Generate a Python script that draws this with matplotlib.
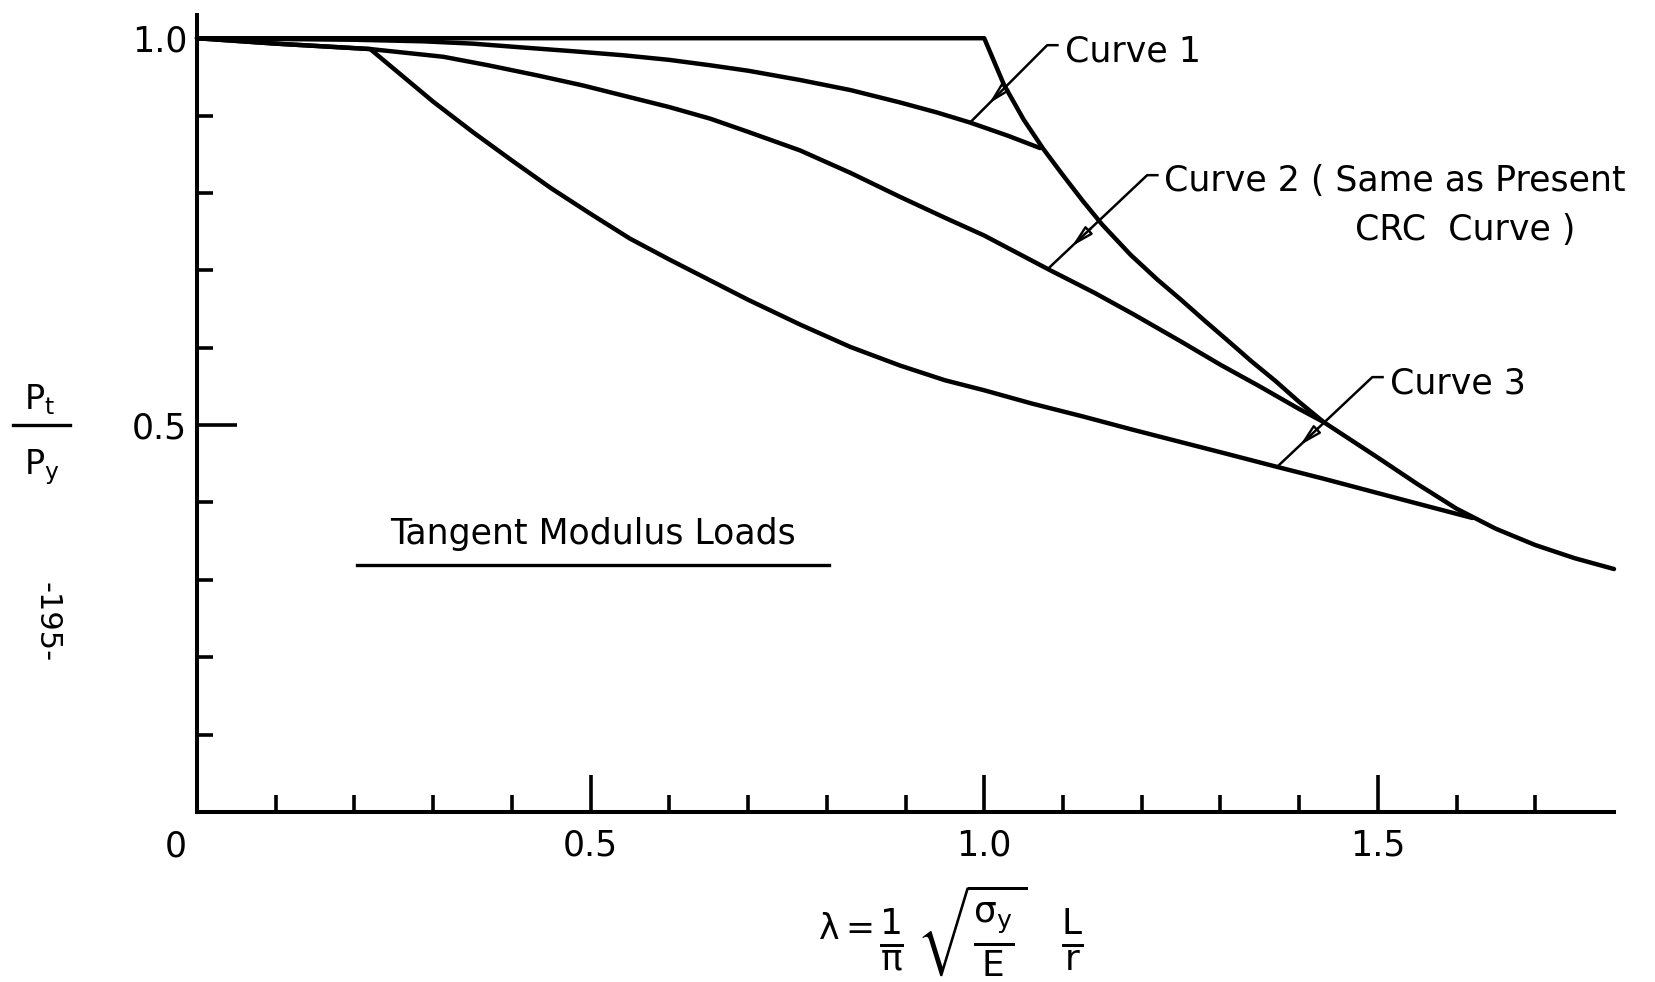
import numpy as np
import matplotlib
matplotlib.use('Agg')
import matplotlib.pyplot as plt
from matplotlib.patches import FancyArrowPatch
from matplotlib.lines import Line2D

plt.rcParams['font.family'] = ['DejaVu Sans']
plt.rcParams['mathtext.default'] = 'regular'

# ── Curves (slenderness λ, P_t/P_y) ───────────────────────────────────────────
lam_euler = [0.0, 1.0, 1.025, 1.05, 1.075, 1.10, 1.125, 1.15, 1.186, 1.22,
             1.25, 1.28, 1.313, 1.34, 1.37, 1.40, 1.431, 1.47, 1.50, 1.55,
             1.60, 1.65, 1.70, 1.75, 1.80]
p_euler   = [1.0, 1.0, 0.940, 0.895, 0.857, 0.823, 0.790, 0.759, 0.720, 0.688,
             0.662, 0.635, 0.606, 0.582, 0.557, 0.530, 0.504, 0.478, 0.458, 0.424,
             0.392, 0.366, 0.345, 0.328, 0.314]

lam_c1 = [0.0, 0.10, 0.20, 0.287, 0.35, 0.414, 0.48, 0.541, 0.60, 0.652, 0.70,
          0.766, 0.83, 0.893, 0.94, 0.982, 1.03, 1.071]
p_c1   = [1.0, 0.999, 0.998, 0.996, 0.993, 0.988, 0.983, 0.978, 0.972, 0.965, 0.958,
          0.946, 0.933, 0.917, 0.904, 0.891, 0.874, 0.858]

lam_c2 = [0.0, 0.10, 0.22, 0.313, 0.37, 0.432, 0.49, 0.541, 0.60, 0.652, 0.70,
          0.766, 0.83, 0.893, 0.95, 1.0, 1.084, 1.14, 1.19, 1.25, 1.30, 1.35,
          1.398, 1.431]
p_c2   = [1.0, 0.993, 0.986, 0.976, 0.965, 0.952, 0.939, 0.926, 0.911, 0.896, 0.879,
          0.855, 0.826, 0.795, 0.768, 0.745, 0.700, 0.671, 0.643, 0.608, 0.578, 0.550,
          0.522, 0.504]

lam_c3 = [0.0, 0.10, 0.22, 0.26, 0.30, 0.35, 0.40, 0.45, 0.50, 0.55, 0.60, 0.65,
          0.70, 0.766, 0.83, 0.893, 0.95, 1.0, 1.06, 1.126, 1.185, 1.25, 1.30,
          1.372, 1.43, 1.482, 1.545, 1.62]
p_c3   = [1.0, 0.993, 0.986, 0.952, 0.918, 0.879, 0.842, 0.806, 0.773, 0.741, 0.714,
          0.688, 0.662, 0.630, 0.601, 0.577, 0.558, 0.545, 0.528, 0.511, 0.495, 0.478,
          0.465, 0.446, 0.431, 0.417, 0.400, 0.380]

# leader lines: point on curve, elbow, label
labels      = ['Curve 1', 'Curve 2 ( Same as Present', 'Curve 3']
leader_tip  = [(0.982, 0.891), (1.081, 0.702), (1.372, 0.446)]
leader_knee = [(1.080, 0.991), (1.207, 0.823), (1.493, 0.562)]

x_major = [0.5, 1.0, 1.5]
x_minor = [0.1, 0.2, 0.3, 0.4, 0.6, 0.7, 0.8, 0.9, 1.1, 1.2, 1.3, 1.4, 1.6, 1.7]
y_major = [0.5, 1.0]
y_minor = [0.1, 0.2, 0.3, 0.4, 0.6, 0.7, 0.8, 0.9]

# ── Figure ────────────────────────────────────────────────────────────────────
W, H = 1656, 982
fig = plt.figure(figsize=(W / 100, H / 100), dpi=100)
ax = fig.add_axes([197 / W, 170 / H, 1417 / W, 797 / H])
ax.set_xlim(0, 1.80)
ax.set_ylim(0, 1.03)

lw = 3.2
for xs, ys in [(lam_euler, p_euler), (lam_c1, p_c1), (lam_c2, p_c2), (lam_c3, p_c3)]:
    ax.plot(xs, ys, color='black', lw=lw, solid_capstyle='round',
            solid_joinstyle='round', clip_on=False)

for s in ['top', 'right']:
    ax.spines[s].set_visible(False)
for s in ['left', 'bottom']:
    ax.spines[s].set_linewidth(2.9)

ax.set_xticks(x_major)
ax.set_xticklabels(['0.5', '1.0', '1.5'])
ax.set_xticks(x_minor, minor=True)
ax.set_yticks(y_major)
ax.set_yticklabels(['0.5', '1.0'])
ax.set_yticks(y_minor, minor=True)
ax.tick_params(axis='x', which='major', direction='in', length=27, width=2.6,
               labelsize=25, pad=12)
ax.tick_params(axis='x', which='minor', direction='in', length=12, width=2.6)
ax.tick_params(axis='y', which='major', direction='in', length=29, width=2.6,
               labelsize=25, pad=7)
ax.tick_params(axis='y', which='minor', direction='in', length=11.5, width=2.6)
ax.text(-0.027, -0.022, '0', fontsize=25, ha='center', va='top')

# leaders with open arrowheads
for txt, (x0, y0), (x1, y1) in zip(labels, leader_tip, leader_knee):
    ax.plot([x0, x1, x1 + 0.013], [y0, y1, y1], color='black', lw=1.8,
            clip_on=False)
    dx, dy = x1 - x0, y1 - y0
    arr = FancyArrowPatch((x0 + 0.45 * dx, y0 + 0.45 * dy),
                          (x0 + 0.22 * dx, y0 + 0.22 * dy),
                          arrowstyle='-|>,head_length=13,head_width=3.2',
                          fc='white', ec='black', lw=1.7, mutation_scale=1)
    ax.add_patch(arr)
    ax.text(x1 + 0.022, y1 - 0.008, txt, fontsize=25, ha='left', va='center')
ax.text(1.471, 0.752, 'CRC  Curve )', fontsize=25, ha='left', va='center')

ax.text(0.503, 0.359, 'Tangent Modulus Loads', fontsize=25, ha='center',
        va='center')
ax.plot([0.203, 0.803], [0.319, 0.319], color='black', lw=2.4)

# y label as a stacked fraction
fig.text(40 / W, 1 - 409 / H, r'P$_t$', fontsize=24, ha='center', va='baseline')
fig.add_artist(Line2D([13 / W, 70 / W], [1 - 425 / H, 1 - 425 / H],
                      color='black', lw=2.4))
fig.text(42 / W, 1 - 474 / H, r'P$_y$', fontsize=24, ha='center', va='baseline')

fig.text(47 / W, 1 - 622 / H, '-195-', fontsize=22, rotation=-90,
         ha='center', va='center')

# x label: slenderness parameter
fig.text(873 / W, 1 - 929 / H, r'$\lambda =$', fontsize=25, ha='right',
         va='center')
fig.text(879 / W, 1 - 931 / H,
         r'$\frac{1}{\pi}\,\sqrt{\frac{\sigma_y}{E}}\;\;\,\frac{L}{r}$',
         fontsize=37, ha='left', va='center')

fig.savefig('out.png', dpi=100, facecolor='white')
